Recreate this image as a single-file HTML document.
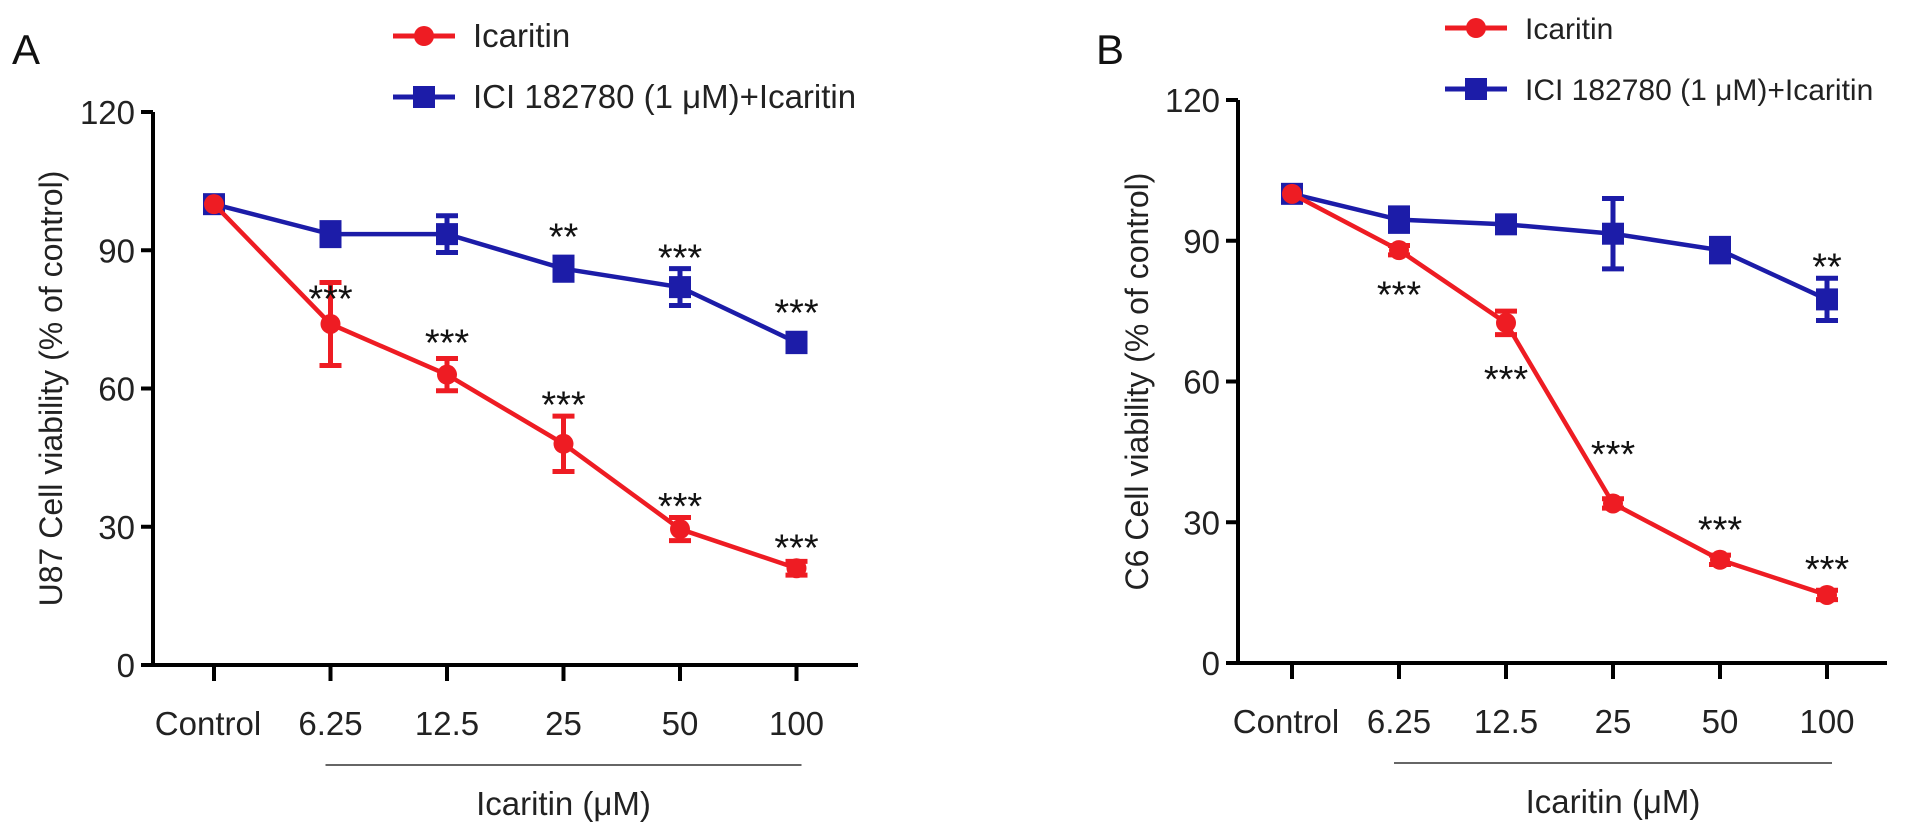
<!DOCTYPE html>
<html><head><meta charset="utf-8"><style>
body{margin:0;background:#fff}
svg{display:block;font-family:"Liberation Sans",Arial,sans-serif}
</style></head><body>
<svg id="c" width="1913" height="830"></svg>
<script>
const categories=["Control","6.25","12.5","25","50","100"];
const yTicks=[0,30,60,90,120];
const aRed=[100,74,63,48,29.5,21];
const aRedErr=[0,9,3.5,6,2.5,1.5];
const aBlue=[100,93.5,93.5,86,82,70];
const aBlueErr=[0,2.5,4,2.5,4,2];
const bRed=[100,88,72.5,34,22,14.5];
const bRedErr=[0,1,2.5,1,1,1];
const bBlue=[100,94.5,93.5,91.5,88,77.5];
const bBlueErr=[0,2.5,1,7.5,2.5,4.5];
const aRedStars=["","***","***","***","***","***"];
const aRedStarY=[0,81,71.5,58,36,27];
const aBlueStars=["","","","**","***","***"];
const aBlueStarY=[0,0,0,94.5,90,78];
const bRedStars=["","***","***","***","***","***"];
const bRedStarY=[0,80,62,46,30,21.5];
const bBlueStars=["","","","","","**"];
const bBlueStarY=[0,0,0,0,0,86];

const NS="http://www.w3.org/2000/svg";
const svg=document.getElementById('c');
function el(t,a,p){const e=document.createElementNS(NS,t);for(const k in a)e.setAttribute(k,a[k]);(p||svg).appendChild(e);return e;}
const RED="#ee1c23",BLUE="#1c1ca8";

function panel(cfg){
 const g=el('g',{});
 
 
 const y=v=>cfg.y0-(cfg.y0-cfg.y120)*v/120;
 const x=i=>cfg.x0+cfg.dx*i;
 const ya=el('line',{x1:cfg.ax,y1:cfg.y120,x2:cfg.ax,y2:cfg.y0,stroke:"#000","stroke-width":4},g);
 
 const xa=el('line',{x1:cfg.ax-12,y1:cfg.y0,x2:cfg.axEnd,y2:cfg.y0,stroke:"#000","stroke-width":4},g);
 
 yTicks.forEach(v=>{
  el('line',{x1:cfg.ax-12,y1:y(v),x2:cfg.ax,y2:y(v),stroke:"#000","stroke-width":4},g);
  const t=el('text',{x:cfg.ax-18,y:y(v)+12,"text-anchor":"end","font-size":33,fill:"#222"},g);
  t.textContent=v;
  
 });
 categories.forEach((c,i)=>{
  el('line',{x1:x(i),y1:cfg.y0,x2:x(i),y2:cfg.y0+16,stroke:"#000","stroke-width":4},g);
  const t=el('text',{x:x(i)+(i==0?-6:0),y:cfg.y0+70,"text-anchor":"middle","font-size":33,fill:"#222"},g);
  t.textContent=c;
  
 });
 const br=el('line',{x1:x(1)-5,y1:cfg.y0+100,x2:x(5)+5,y2:cfg.y0+100,stroke:"#333","stroke-width":1.5},g);
 
 const xt=el('text',{x:(x(1)+x(5))/2,y:cfg.y0+150,"text-anchor":"middle","font-size":33,fill:"#222"},g);
 xt.textContent="Icaritin (μM)";
 
 const cy=(cfg.y0+cfg.y120)/2;
 const yt=el('text',{x:cfg.ytX,y:cy,"text-anchor":"middle","font-size":32,fill:"#222",transform:`rotate(-90 ${cfg.ytX} ${cy})`},g);
 yt.textContent=cfg.ytitle;
 
 const pl=el('text',{x:cfg.lx,y:64,"font-size":42,fill:"#111"},g);
 pl.textContent=cfg.label;
 
 function series(vals,errs,col,shape,nm){
  const sg=el('g',{},g);
  
  el('polyline',{points:vals.map((v,i)=>x(i)+','+y(v)).join(' '),fill:"none",stroke:col,"stroke-width":4.5},sg);
  vals.forEach((v,i)=>{
   if(errs[i]>0){
    const eb=el('path',{d:`M${x(i)},${y(v+errs[i])}V${y(v-errs[i])}M${x(i)-11},${y(v+errs[i])}h22M${x(i)-11},${y(v-errs[i])}h22`,stroke:col,"stroke-width":5,fill:"none"},sg);
    
   }
   let m;
   if(shape=='c') m=el('circle',{cx:x(i),cy:y(v),r:10,fill:col},sg);
   else m=el('rect',{x:x(i)-11,y:y(v)-11,width:22,height:22,fill:col},sg);
   
  });
 }
 series(cfg.blue,cfg.blueErr,BLUE,'s','series-ici-icaritin');
 series(cfg.red,cfg.redErr,RED,'c','series-icaritin');
 function stars(lbls,ys){
  lbls.forEach((s,i)=>{if(!s)return;
   const t=el('text',{x:x(i),y:y(ys[i])+20,"text-anchor":"middle","font-size":38,fill:"#111"},g);
   t.textContent=s;
   
  });
 }
 stars(cfg.rs,cfg.rsy);stars(cfg.bs,cfg.bsy);
 [[RED,'c',"Icaritin",cfg.legY1],[BLUE,'s',"ICI 182780 (1 μM)+Icaritin",cfg.legY2]].forEach(([col,sh,txt,ly])=>{
  const lg=el('g',{},g);
  
  el('line',{x1:cfg.legX,y1:ly,x2:cfg.legX+62,y2:ly,stroke:col,"stroke-width":5},lg);
  if(sh=='c')el('circle',{cx:cfg.legX+31,cy:ly,r:10,fill:col},lg);
  else el('rect',{x:cfg.legX+20,y:ly-11,width:22,height:22,fill:col},lg);
  const t=el('text',{x:cfg.legX+80,y:ly+11,"font-size":cfg.legFs,fill:"#222"},lg);
  t.textContent=txt;
 });
}
panel({name:'panel-a-u87',ax:153,axEnd:858,x0:214,dx:116.5,y0:665,y120:112,ytX:62,ytitle:"U87 Cell viability (% of control)",label:"A",lx:12,legFs:33,
 red:aRed,redErr:aRedErr,blue:aBlue,blueErr:aBlueErr,rs:aRedStars,rsy:aRedStarY,bs:aBlueStars,bsy:aBlueStarY,legX:393,legY1:36,legY2:97});
panel({name:'panel-b-c6',ax:1238,axEnd:1887,x0:1292,dx:107,y0:663,y120:100,ytX:1148,ytitle:"C6 Cell viability (% of control)",label:"B",lx:1096,legFs:30,
 red:bRed,redErr:bRedErr,blue:bBlue,blueErr:bBlueErr,rs:bRedStars,rsy:bRedStarY,bs:bBlueStars,bsy:bBlueStarY,legX:1445,legY1:28,legY2:89});
</script>
</body></html>
